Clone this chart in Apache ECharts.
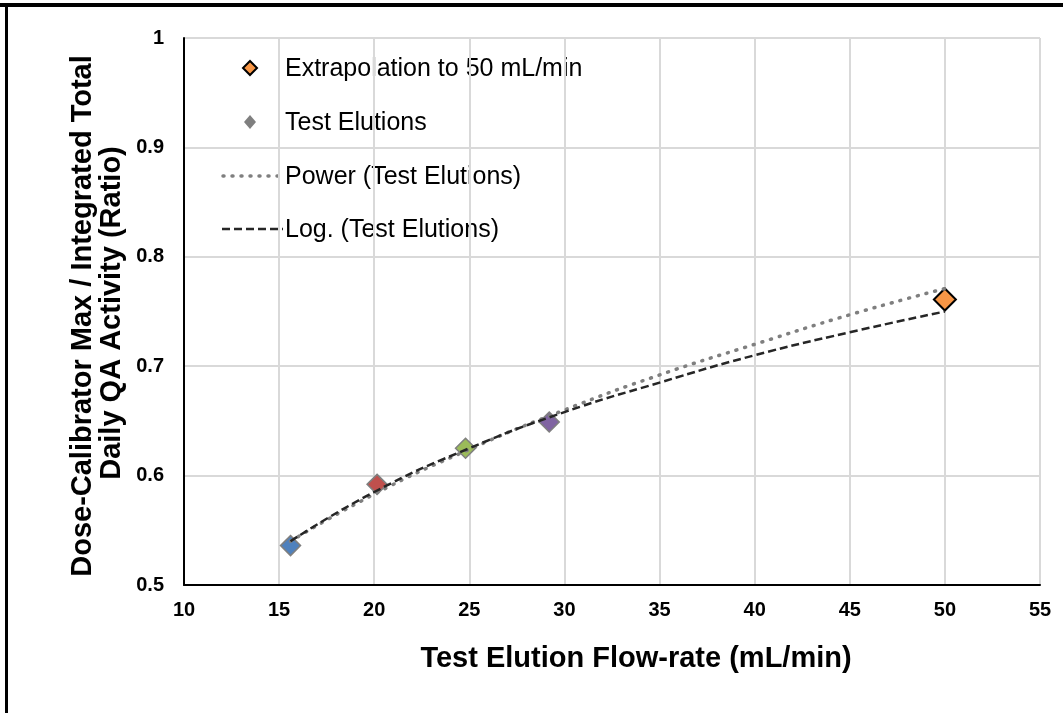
<!DOCTYPE html>
<html><head><meta charset="utf-8">
<script src="https://cdn.jsdelivr.net/npm/echarts@6/dist/echarts.min.js"></script>
<style>html,body{margin:0;padding:0;background:#fff}#c{width:1063px;height:713px}</style>
</head><body><div id="c"></div>
<script>
// Test elution points (flow-rate mL/min, ratio)
const testX = [15.6, 20.15, 24.8, 29.2];
const testY = [0.536, 0.592, 0.625, 0.649];
const testColors = ['#4f81bd', '#c0504d', '#9bbb59', '#8064a2'];
// Extrapolated point
const extraX = [50];
const extraY = [0.761];
// Trendlines
const trendX = [15.6, 20, 25, 30, 35, 40, 45, 50];
const powerY = [0.540, 0.583, 0.624, 0.660, 0.692, 0.720, 0.747, 0.771];
const logY   = [0.540, 0.585, 0.625, 0.658, 0.685, 0.710, 0.731, 0.750];
const xTicks = [10, 55, 5];
const yTicks = [0.5, 1, 0.1];

const FONT = '"Liberation Sans", Arial, sans-serif';
const chart = echarts.init(document.getElementById('c'));
const zip = (a, b) => a.map((v, i) => [v, b[i]]);

chart.setOption({
  animation: false,
  backgroundColor: '#fff',
  grid: {left: 184, right: 23, top: 38, bottom: 128},
  xAxis: {
    type: 'value', min: xTicks[0], max: xTicks[1], interval: xTicks[2],
    axisLine: {show: true, onZero: false, lineStyle: {color: '#000', width: 2}},
    axisTick: {show: false},
    splitLine: {show: true, lineStyle: {color: '#d9d9d9', width: 2}},
    axisLabel: {color: '#000', fontFamily: FONT, fontWeight: 'bold', fontSize: 20, margin: 15}
  },
  yAxis: {
    type: 'value', min: yTicks[0], max: yTicks[1], interval: yTicks[2],
    axisLine: {show: true, onZero: false, lineStyle: {color: '#000', width: 2}},
    axisTick: {show: false},
    splitLine: {show: true, lineStyle: {color: '#d9d9d9', width: 2}},
    axisLabel: {color: '#000', fontFamily: FONT, fontWeight: 'bold', fontSize: 20, margin: 20}
  },
  series: [
    {
      type: 'scatter', name: 'Test Elutions', symbol: 'diamond', symbolSize: 20, z: 2,
      data: zip(testX, testY).map((p, i) => ({value: p, itemStyle: {color: testColors[i]}})),
      itemStyle: {borderColor: '#7f7f7f', borderWidth: 1.5, opacity: 1}
    },
    {
      type: 'scatter', name: 'Extrapolation to 50 mL/min', symbol: 'diamond', symbolSize: 22, z: 2,
      data: zip(extraX, extraY),
      itemStyle: {color: '#f79646', borderColor: '#000', borderWidth: 2, opacity: 1}
    },
    {
      type: 'line', name: 'Power (Test Elutions)', smooth: true, symbol: 'none', z: 4,
      data: zip(trendX, powerY),
      lineStyle: {color: '#7f7f7f', width: 3.5, type: [1, 8], cap: 'round'}
    },
    {
      type: 'line', name: 'Log. (Test Elutions)', smooth: true, symbol: 'none', z: 5,
      data: zip(trendX, logY),
      lineStyle: {color: '#262626', width: 2.5, type: [8, 4]}
    }
  ],
  graphic: [
    // frame
    {type: 'rect', shape: {x: 0, y: 3, width: 1063, height: 4}, style: {fill: '#000'}},
    {type: 'rect', shape: {x: 5, y: 3, width: 3, height: 710}, style: {fill: '#000'}},
    // legend
    {type: 'polygon', shape: {points: [[250, 61], [257, 68], [250, 75], [243, 68]]}, style: {fill: '#f79646', stroke: '#000', lineWidth: 2}},
    {type: 'text', x: 285, y: 69, style: {text: 'Extrapolation to 50 mL/min', font: '25px ' + FONT, fill: '#000', verticalAlign: 'middle'}},
    {type: 'polygon', shape: {points: [[250, 115], [256, 122], [250, 129], [244, 122]]}, style: {fill: '#7f7f7f'}},
    {type: 'text', x: 285, y: 123, style: {text: 'Test Elutions', font: '25px ' + FONT, fill: '#000', verticalAlign: 'middle'}},
    {type: 'line', shape: {x1: 223, y1: 176, x2: 282, y2: 176}, style: {stroke: '#7f7f7f', lineWidth: 3.5, lineDash: [1, 8], lineCap: 'round'}},
    {type: 'text', x: 285, y: 177, style: {text: 'Power (Test Elutions)', font: '25px ' + FONT, fill: '#000', verticalAlign: 'middle'}},
    {type: 'line', shape: {x1: 222, y1: 229, x2: 283, y2: 229}, style: {stroke: '#262626', lineWidth: 2.5, lineDash: [8, 4]}},
    {type: 'text', x: 285, y: 230, style: {text: 'Log. (Test Elutions)', font: '25px ' + FONT, fill: '#000', verticalAlign: 'middle'}},
    // axis titles
    {type: 'text', x: 636, y: 659, style: {text: 'Test Elution Flow-rate (mL/min)', font: 'bold 29px ' + FONT, fill: '#000', align: 'center', verticalAlign: 'middle'}},
    {type: 'text', x: 83, y: 316, rotation: Math.PI / 2, style: {text: 'Dose-Calibrator Max / Integrated Total', font: 'bold 29px ' + FONT, fill: '#000', align: 'center', verticalAlign: 'middle'}},
    {type: 'text', x: 112, y: 313, rotation: Math.PI / 2, style: {text: 'Daily QA Activity (Ratio)', font: 'bold 29px ' + FONT, fill: '#000', align: 'center', verticalAlign: 'middle'}}
  ]
});
</script>
</body></html>
